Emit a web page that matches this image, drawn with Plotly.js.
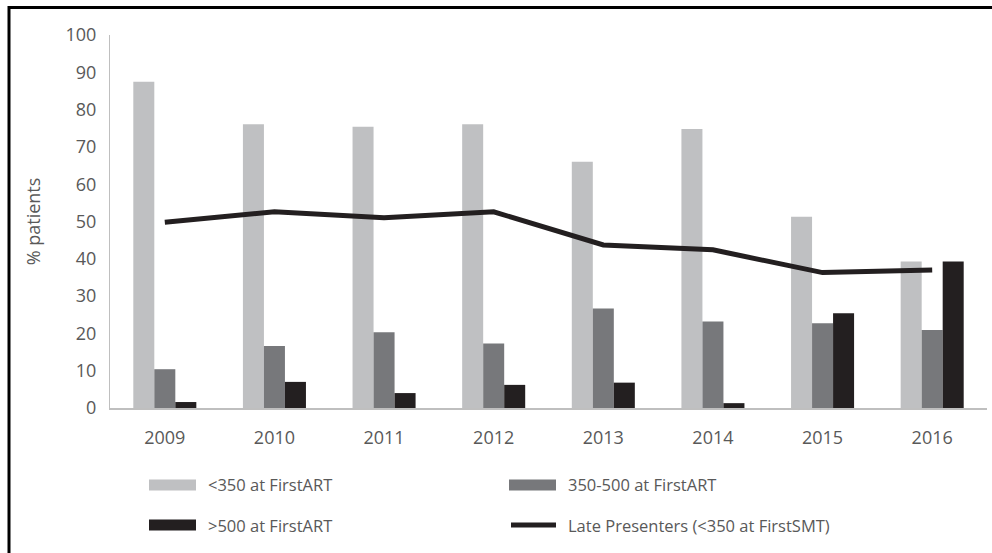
<!DOCTYPE html>
<html>
<head>
<meta charset="utf-8">
<script src="https://cdn.plot.ly/plotly-3.0.1.min.js"></script>
<style>
html, body { margin: 0; padding: 0; background: #ffffff; }
#chart { width: 992px; height: 553px; }
</style>
</head>
<body>
<div id="chart"></div>
<script>
// ---- data ----
var years = ['2009', '2010', '2011', '2012', '2013', '2014', '2015', '2016'];
var below350ART = [87.5, 76.1, 75.4, 76.1, 66.0, 74.8, 51.3, 39.3];
var mid350to500ART = [10.4, 16.6, 20.3, 17.3, 26.7, 23.2, 22.7, 20.9];
var above500ART = [1.6, 7.0, 4.0, 6.2, 6.8, 1.3, 25.4, 39.3];
var latePresenters = [49.8, 52.6, 51.0, 52.6, 43.7, 42.4, 36.3, 37.0];
var seriesNames = ['<350 at FirstART', '350-500 at FirstART', '>500 at FirstART', 'Late Presenters (<350 at FirstSMT)'];
var yTicks = [0, 10, 20, 30, 40, 50, 60, 70, 80, 90, 100];

// ---- styles ----
var cLight = '#bfc0c2', cMid = '#77787b', cDark = '#231f20';
var textColor = '#595959';
var fontFam = 'Open Sans, Liberation Sans, sans-serif';

var traces = [
  { type: 'bar', name: seriesNames[0], x: years, y: below350ART, marker: { color: cLight }, showlegend: false },
  { type: 'bar', name: seriesNames[1], x: years, y: mid350to500ART, marker: { color: cMid }, showlegend: false },
  { type: 'bar', name: seriesNames[2], x: years, y: above500ART, marker: { color: cDark }, showlegend: false },
  { type: 'scatter', mode: 'lines', name: seriesNames[3], x: years, y: latePresenters,
    line: { color: cDark, width: 5, shape: 'linear' }, showlegend: false }
];

// plot area geometry (px) used to convert legend/frame positions into paper coords
var L = 110, R = 5, T = 35, B = 145, W = 992, H = 553;
var pw = W - L - R, ph = H - T - B;
function px2x(p) { return (p - L) / pw; }
function py2y(p) { return (H - B - p) / ph; }

// custom legend (wide swatches as in the reference)
var legendItems = [
  { label: seriesNames[0], kind: 'bar', color: cLight, x: 149, y: 485 },
  { label: seriesNames[1], kind: 'bar', color: cMid, x: 509, y: 485 },
  { label: seriesNames[2], kind: 'bar', color: cDark, x: 149, y: 525 },
  { label: seriesNames[3], kind: 'line', color: cDark, x: 509, y: 525 }
];
var shapes = [];
var annotations = [];
legendItems.forEach(function (it) {
  if (it.kind === 'bar') {
    shapes.push({ type: 'rect', xref: 'paper', yref: 'paper',
      x0: px2x(it.x), x1: px2x(it.x + 47), y0: py2y(it.y - 5.5), y1: py2y(it.y + 5.5),
      fillcolor: it.color, line: { width: 0 } });
  } else {
    shapes.push({ type: 'line', xref: 'paper', yref: 'paper',
      x0: px2x(it.x + 2), x1: px2x(it.x + 47), y0: py2y(it.y), y1: py2y(it.y),
      line: { color: it.color, width: 5 } });
  }
  annotations.push({ xref: 'paper', yref: 'paper', x: px2x(it.x + 57), y: py2y(it.y),
    xanchor: 'left', yanchor: 'middle', showarrow: false, text: it.label,
    font: { family: fontFam, size: 16.5, color: textColor } });
});
// outer frame (only left and top edges are visible in the reference)
shapes.push({ type: 'line', xref: 'paper', yref: 'paper', x0: px2x(9), x1: px2x(9), y0: py2y(6), y1: py2y(560), line: { color: '#000000', width: 3 } });
shapes.push({ type: 'line', xref: 'paper', yref: 'paper', x0: px2x(8), x1: px2x(1000), y0: py2y(7.5), y1: py2y(7.5), line: { color: '#000000', width: 3 } });

var layout = {
  width: W, height: H,
  margin: { l: L, r: R, t: T, b: B, pad: 0 },
  paper_bgcolor: '#ffffff', plot_bgcolor: '#ffffff',
  barmode: 'group', bargap: 0.425, bargroupgap: 0,
  showlegend: false,
  font: { family: fontFam, color: textColor, size: 18 },
  xaxis: {
    type: 'category', showgrid: false, zeroline: false,
    showline: true, linecolor: '#bfbfbf', linewidth: 1.5,
    ticks: '', ticklabelstandoff: 13,
    tickfont: { family: fontFam, size: 18, color: textColor }
  },
  yaxis: {
    range: [0, 100], tickvals: yTicks, ticktext: yTicks.map(String),
    showgrid: false, zeroline: false,
    showline: true, linecolor: '#bfbfbf', linewidth: 1,
    ticks: '', ticklabelstandoff: 9,
    tickfont: { family: fontFam, size: 18, color: textColor },
    title: { text: '% patients', standoff: 20, font: { family: fontFam, size: 18, color: textColor } }
  },
  shapes: shapes,
  annotations: annotations
};

Plotly.newPlot('chart', traces, layout, { displayModeBar: false, staticPlot: true });
</script>
</body>
</html>
